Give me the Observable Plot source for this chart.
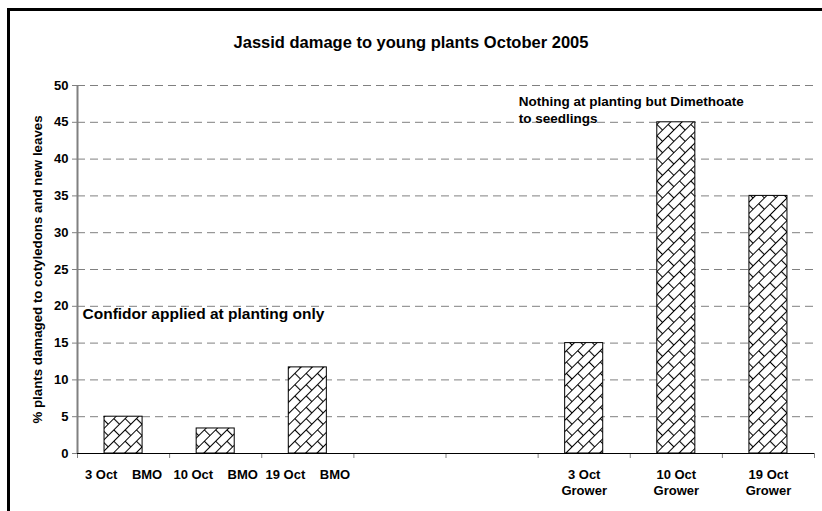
<!DOCTYPE html>
<html>
<head>
<meta charset="utf-8">
<script src="https://cdn.jsdelivr.net/npm/d3@7"></script>
<script src="https://cdn.jsdelivr.net/npm/@observablehq/plot@0.6"></script>
<style>
  html, body { margin: 0; padding: 0; background: #fff; }
  #wrap { position: relative; width: 822px; height: 511px; overflow: hidden; font-family: "Liberation Sans", Arial, sans-serif; }
  #border { position: absolute; left: 7px; top: 8px; width: 900px; height: 600px; border-top: 3px solid #000; border-left: 3px solid #000; pointer-events: none; }
  #title { position: absolute; left: 0; top: 32px; width: 822px; text-align: center; font-weight: bold; font-size: 16.5px; line-height: 20px; color: #000; }
  #chart { position: absolute; left: 0; top: 0; }
</style>
</head>
<body>
<div id="wrap">
  <div id="chart"></div>
  <div id="title">Jassid damage to young plants October 2005</div>
  <div id="border"></div>
</div>
<script>
// ---- data ----
const categories = ["3 Oct    BMO", "10 Oct    BMO", "19 Oct    BMO", "", "", "3 Oct\nGrower", "10 Oct\nGrower", "19 Oct\nGrower"];
const values = [5, 3.4, 11.7, null, null, 15, 45, 35];
const yTicks = [0, 5, 10, 15, 20, 25, 30, 35, 40, 45, 50];
const yLabel = "% plants damaged to cotyledons and new leaves";
const noteConfidor = {text: "Confidor applied at planting only", slot: 0, y: 19};
const noteDimethoate = {text: "Nothing at planting but Dimethoate\nto seedlings", slot: 4.79, y: 46.8};

const slots = categories.map((c, i) => ({label: c, i, v: values[i]}));
const bars = slots.filter(d => d.v != null);
const halfBar = 0.2065;

function hatchDefs() {
  const ns = "http://www.w3.org/2000/svg";
  const defs = document.createElementNS(ns, "defs");
  const p = document.createElementNS(ns, "pattern");
  p.setAttribute("id", "hatch");
  p.setAttribute("patternUnits", "userSpaceOnUse");
  p.setAttribute("width", "16");
  p.setAttribute("height", "16");
  p.setAttribute("patternTransform", "rotate(-45)");
  const bg = document.createElementNS(ns, "rect");
  bg.setAttribute("width", "16"); bg.setAttribute("height", "16"); bg.setAttribute("fill", "#fff");
  p.appendChild(bg);
  const path = document.createElementNS(ns, "path");
  path.setAttribute("d", "M0,0.5H16M0,8.5H16M0.5,0V8.5M8.5,8.5V16");
  path.setAttribute("stroke", "#000");
  path.setAttribute("stroke-width", "1.1");
  path.setAttribute("fill", "none");
  p.appendChild(path);
  defs.appendChild(p);
  return defs;
}

const chart = Plot.plot({
  width: 822,
  height: 511,
  marginTop: 85,
  marginRight: 8,
  marginBottom: 58,
  marginLeft: 77,
  style: {fontFamily: "Liberation Sans, Arial, sans-serif", fontWeight: "bold", fontSize: "13px", color: "#000", background: "transparent"},
  x: {type: "linear", domain: [0, categories.length], axis: null},
  y: {domain: [0, 50], axis: null},
  marks: [
    hatchDefs,
    Plot.gridY(yTicks.filter(t => t > 0), {stroke: "#808080", strokeOpacity: 1, strokeDasharray: "8,5", strokeWidth: 1}),
    Plot.rectY(bars, {x1: d => d.i + 0.5 - halfBar, x2: d => d.i + 0.5 + halfBar, y1: 0, y2: "v", fill: "url(#hatch)", stroke: "#000", strokeWidth: 1}),
    Plot.axisY({ticks: yTicks, tickSize: 5, tickPadding: 4, stroke: "#808080", fill: "#000", label: null, fontSize: 13, fontWeight: "bold"}),
    Plot.axisX({ticks: d3.range(0, categories.length + 1), tickSize: 5, tickFormat: () => "", stroke: "#808080", label: null}),
    Plot.ruleX([0], {stroke: "#808080", strokeWidth: 2}),
    Plot.ruleY([0], {stroke: "#000", strokeWidth: 1}),
    Plot.text(slots, {x: d => d.i + 0.5, text: "label", frameAnchor: "bottom", lineAnchor: "top", dy: 13, fontSize: 13, fontWeight: "bold", lineHeight: 1.3, fill: "#000"}),
    Plot.text([yLabel], {frameAnchor: "left", textAnchor: "middle", rotate: -90, dx: -40, fontSize: 13.3, fontWeight: "bold", fill: "#000"}),
    Plot.text([noteConfidor], {x: "slot", y: "y", text: "text", textAnchor: "start", dx: 5, fontSize: 15.5, fontWeight: "bold", fill: "#000"}),
    Plot.text([noteDimethoate], {x: "slot", y: "y", text: "text", textAnchor: "start", dx: 0, fontSize: 13.5, fontWeight: "bold", lineHeight: 1.25, fill: "#000"})
  ]
});
document.getElementById("chart").appendChild(chart);
</script>
</body>
</html>
